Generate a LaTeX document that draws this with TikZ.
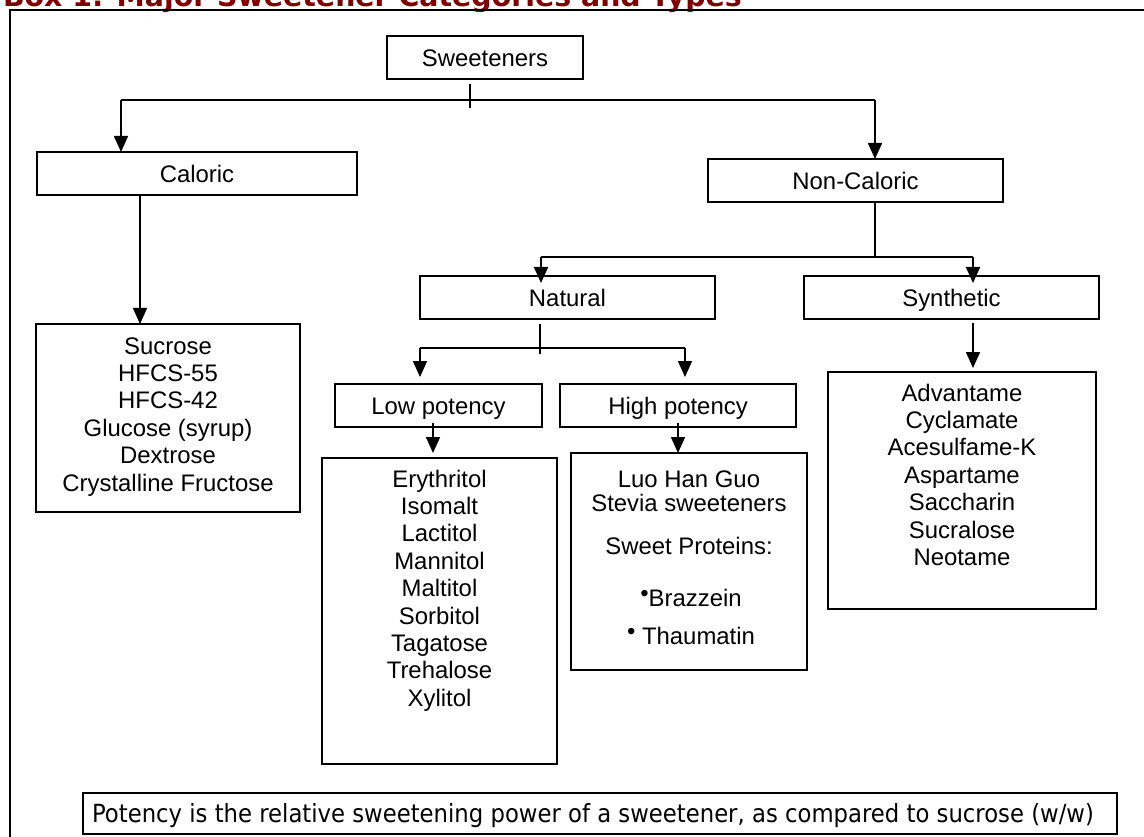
\documentclass[tikz,border=0pt]{standalone}
\usepackage{fontspec}
\setmainfont{Liberation Sans}
\newfontfamily\titlefont{DejaVu Sans}
\newfontfamily\notefont[FakeStretch=0.91]{DejaVu Sans}
\usetikzlibrary{arrows.meta}
\definecolor{titlered}{RGB}{128,0,0}
\begin{document}
\begin{tikzpicture}[x=1pt,y=-1pt,
  every node/.style={inner sep=0pt, outer sep=0pt},
  bx/.style={draw, line width=1.6pt, rectangle, anchor=north west,
    text height=17.2pt, text depth=0pt,
    font=\fontsize{23.9}{27.5}\selectfont},
  lbx/.style={draw, line width=1.6pt, rectangle, anchor=north west},
  txt/.style={font=\fontsize{23.9}{27.4}\selectfont, align=center, anchor=base},
  conn/.style={line width=1.6pt},
  arr/.style={line width=1.6pt, -{Triangle[length=16pt,width=14pt]}},
  frame/.style={line width=2.4pt}
]
\useasboundingbox (0,0) rectangle (1144,837);
% title (cut off at top)
\node[anchor=base west, font=\titlefont\bfseries\fontsize{28.4}{30}\selectfont, text=titlered]
  (title) at (3,6.5) {Box 1: Major Sweetener Categories and Types};
% outer frame
\coordinate (fbl) at (10,850);
\coordinate (ftl) at (10,10);
\coordinate (ftr) at (1160,10);
\draw[frame] (fbl) -- (ftl) -- (ftr);

% header boxes
\node[bx, minimum width=196pt, minimum height=43pt] (sw) at (387,36) {Sweeteners};
\node[bx, minimum width=320pt, minimum height=43pt] (cal) at (37,152) {Caloric};
\node[bx, minimum width=295pt, minimum height=43pt] (ncal) at (708,159) {Non-Caloric};
\node[bx, minimum width=295pt, minimum height=43pt] (nat) at (420,276) {Natural};
\node[bx, minimum width=295pt, minimum height=43pt] (syn) at (804,276) {Synthetic};
\node[bx, minimum width=207pt, minimum height=43pt] (low) at (335,384) {Low potency};
\node[bx, minimum width=236pt, minimum height=43pt] (high) at (560,384) {High potency};

% list boxes
\node[lbx, minimum width=264pt, minimum height=188pt] (callist) at (36,324) {};
\node[lbx, minimum width=235pt, minimum height=306pt] (lowlist) at (322,458) {};
\node[lbx, minimum width=236pt, minimum height=217pt] (highlist) at (571,453) {};
\node[lbx, minimum width=268pt, minimum height=237pt] (synlist) at (828,372) {};
\node[lbx, minimum width=1034pt, minimum height=41pt] (note) at (83,793) {};

% list texts (base anchor = baseline of last line)
\node[txt] (caltxt) at (168,491) {Sucrose\\HFCS-55\\HFCS-42\\Glucose (syrup)\\Dextrose\\Crystalline Fructose};
\node[txt] (lowtxt) at (439.5,706.2) {Erythritol\\Isomalt\\Lactitol\\Mannitol\\Maltitol\\Sorbitol\\Tagatose\\Trehalose\\Xylitol};
\node[txt] (syntxt) at (962,565.5) {Advantame\\Cyclamate\\Acesulfame-K\\Aspartame\\Saccharin\\Sucralose\\Neotame};
\node[txt] (h1) at (689,487) {Luo Han Guo};
\node[txt] (h2) at (689,511) {Stevia sweeteners};
\node[txt] (h3) at (689,554) {Sweet Proteins:};
\node[txt] (h4) at (691,606) {\raisebox{5pt}{•}Brazzein};
\node[txt] (h5) at (691,644) {\raisebox{5pt}{•} Thaumatin};
\node[anchor=base west, font=\notefont\fontsize{25}{28}\selectfont] (notetxt) at (92,822)
  {Potency is the relative sweetening power of a sweetener, as compared to sucrose (w/w)};

% connectors: Sweeteners
\coordinate (swt1) at (470,84);
\coordinate (swt2) at (470,108);
\draw[conn] (swt1) -- (swt2);
\coordinate (jl) at (121,100);
\coordinate (jr) at (875,100);
\coordinate (calin) at (121,152);
\coordinate (ncalin) at (875,159);
\draw[conn] (jl) -- (jr);
\draw[arr] (jl) -- (calin);
\draw[arr] (jr) -- (ncalin);
% Caloric to list
\coordinate (calout) at (140,195);
\coordinate (callin) at (140,324);
\draw[arr] (calout) -- (callin);
% Non-caloric split
\coordinate (ncalout) at (875,202);
\coordinate (nj) at (875,257);
\coordinate (njl) at (541,257);
\coordinate (njr) at (973,257);
\coordinate (natin) at (541,283);
\coordinate (synin) at (973,283);
\draw[conn] (ncalout) -- (nj);
\draw[conn] (njl) -- (njr);
\draw[arr] (njl) -- (natin);
\draw[arr] (njr) -- (synin);
% Natural split
\coordinate (natt1) at (540,324);
\coordinate (natt2) at (540,354);
\draw[conn] (natt1) -- (natt2);
\coordinate (nal) at (420,348);
\coordinate (nar) at (685,348);
\coordinate (lowin) at (420,377);
\coordinate (highin) at (685,377);
\draw[conn] (nal) -- (nar);
\draw[arr] (nal) -- (lowin);
\draw[arr] (nar) -- (highin);
% Low / High to lists
\coordinate (lowout) at (433,423);
\coordinate (lowlin) at (433,453);
\coordinate (highout) at (678,423);
\coordinate (highlin) at (678,453);
\draw[arr] (lowout) -- (lowlin);
\draw[arr] (highout) -- (highlin);
% Synthetic to list
\coordinate (synout) at (973,323);
\coordinate (synlin) at (973,368);
\draw[arr] (synout) -- (synlin);
\end{tikzpicture}
\end{document}
